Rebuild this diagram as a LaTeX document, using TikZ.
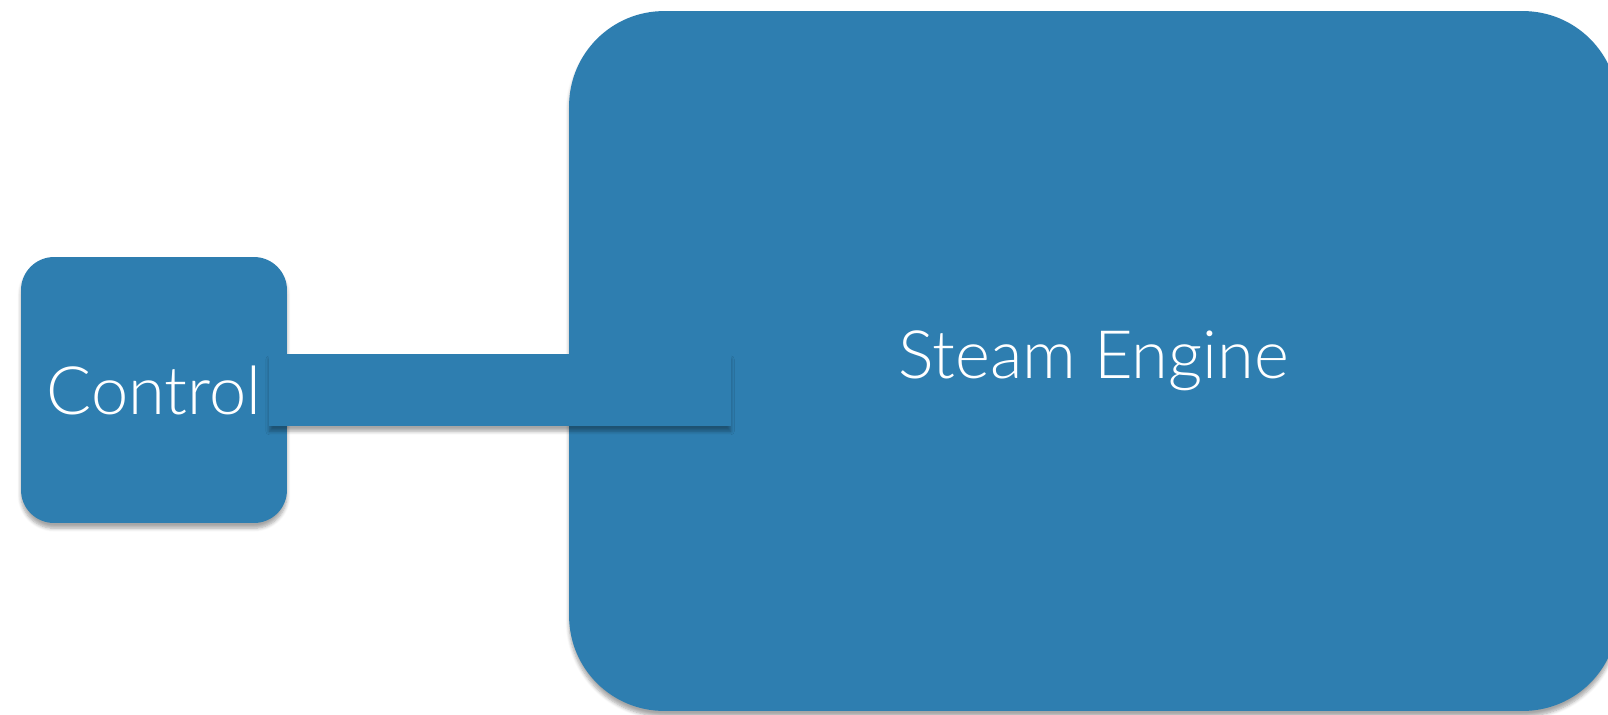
\documentclass[tikz,border=0pt]{standalone}
\usepackage{fontspec}
\setmainfont{Lato}[UprightFont={* Light}]
\usepackage{tikz}
\usetikzlibrary{positioning,calc,shadows.blur}
\definecolor{steamblue}{RGB}{46,126,176}

\begin{document}
\begin{tikzpicture}[
    x=0.02cm, y=-0.02cm,
    block/.style={rectangle, fill=steamblue, text=white, font=\fontsize{38}{44}\selectfont,
        blur shadow={shadow xshift=0pt, shadow yshift=-3pt, shadow blur steps=6, shadow opacity=35}},
    ctrlbox/.style={block, minimum width=5.32cm, minimum height=5.32cm, rounded corners=0.66cm},
    enginebox/.style={block, minimum width=20.98cm, minimum height=14cm, rounded corners=1.9cm},
    linkbar/.style={fill=steamblue,
        blur shadow={shadow xshift=0pt, shadow yshift=-3pt, shadow blur steps=6, shadow opacity=35}}
]
    \useasboundingbox (0,0) rectangle (1608,714);

    % Boxes
    \node[ctrlbox] (ctrl) at (154,390) {Control};
    \node[enginebox] (engine) at (1093.5,361) {Steam Engine};

    % Link between them
    \fill[linkbar] ($(ctrl.east)+(-18,-36)$) rectangle ($(engine.west |- ctrl.east)+(162,36)$);
\end{tikzpicture}
\end{document}
